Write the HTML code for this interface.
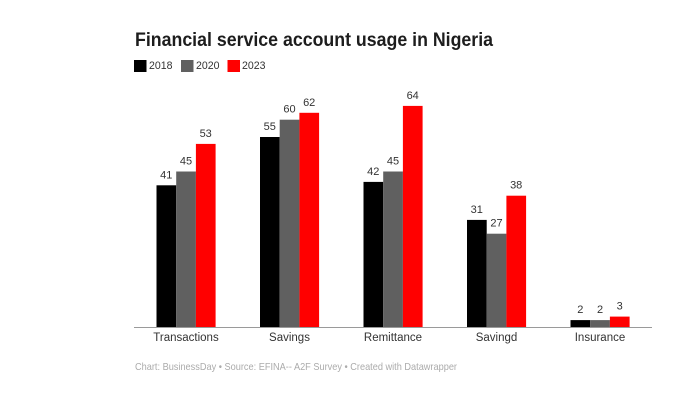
<!DOCTYPE html>
<html>
<head>
<meta charset="utf-8">
<style>
  html,body{margin:0;padding:0;background:#fff;}
  svg{display:block;}
  text{font-family:"Liberation Sans", Arial, sans-serif;}
</style>
</head>
<body>
<svg width="700" height="400" viewBox="0 0 700 400" xmlns="http://www.w3.org/2000/svg">
  <rect width="700" height="400" fill="#fff"/>
  <!-- Title -->
  <text x="135" y="46" font-size="19" font-weight="bold" fill="#1d1d1d" textLength="358" lengthAdjust="spacingAndGlyphs">Financial service account usage in Nigeria</text>
  <!-- Legend -->
  <rect x="134" y="60" width="12.5" height="12" fill="#000"/>
  <text x="149" y="69" font-size="11" fill="#333" textLength="23.5" lengthAdjust="spacingAndGlyphs">2018</text>
  <rect x="181" y="60" width="12.5" height="12" fill="#606060"/>
  <text x="196" y="69" font-size="11" fill="#333" textLength="23.5" lengthAdjust="spacingAndGlyphs">2020</text>
  <rect x="227.5" y="60" width="12.5" height="12" fill="#ff0000"/>
  <text x="242" y="69" font-size="11" fill="#333" textLength="23.5" lengthAdjust="spacingAndGlyphs">2023</text>

  <!-- Bars -->
  <g>
    <!-- Transactions -->
    <rect x="156.5" y="185.3" width="19.7" height="141.7" fill="#000"/>
    <rect x="176.2" y="171.5" width="19.7" height="155.5" fill="#606060"/>
    <rect x="195.9" y="143.9" width="19.7" height="183.1" fill="#ff0000"/>
    <!-- Savings -->
    <rect x="260" y="137.0" width="19.7" height="190.0" fill="#000"/>
    <rect x="279.7" y="119.7" width="19.7" height="207.3" fill="#606060"/>
    <rect x="299.4" y="112.8" width="19.7" height="214.2" fill="#ff0000"/>
    <!-- Remittance -->
    <rect x="363.5" y="181.9" width="19.7" height="145.1" fill="#000"/>
    <rect x="383.2" y="171.5" width="19.7" height="155.5" fill="#606060"/>
    <rect x="402.9" y="105.9" width="19.7" height="221.1" fill="#ff0000"/>
    <!-- Savingd -->
    <rect x="467" y="219.9" width="19.7" height="107.1" fill="#000"/>
    <rect x="486.7" y="233.7" width="19.7" height="93.3" fill="#606060"/>
    <rect x="506.4" y="195.7" width="19.7" height="131.3" fill="#ff0000"/>
    <!-- Insurance -->
    <rect x="570.5" y="320.1" width="19.7" height="6.9" fill="#000"/>
    <rect x="590.2" y="320.1" width="19.7" height="6.9" fill="#606060"/>
    <rect x="609.9" y="316.6" width="19.7" height="10.4" fill="#ff0000"/>
  </g>

  <!-- Value labels -->
  <g font-size="11" fill="#333" text-anchor="middle">
    <text x="166.3" y="178.3">41</text>
    <text x="186.0" y="164.5">45</text>
    <text x="205.7" y="136.9">53</text>
    <text x="269.8" y="130.0">55</text>
    <text x="289.5" y="112.7">60</text>
    <text x="309.2" y="105.8">62</text>
    <text x="373.3" y="174.9">42</text>
    <text x="393.0" y="164.5">45</text>
    <text x="412.7" y="98.9">64</text>
    <text x="476.8" y="212.9">31</text>
    <text x="496.5" y="226.7">27</text>
    <text x="516.2" y="188.7">38</text>
    <text x="580.3" y="313.1">2</text>
    <text x="600.0" y="313.1">2</text>
    <text x="619.7" y="309.6">3</text>
  </g>

  <!-- Axis line -->
  <line x1="134" y1="327.5" x2="652" y2="327.5" stroke="#9a9a9a" stroke-width="1"/>

  <!-- Category labels -->
  <g font-size="11.5" fill="#333" text-anchor="middle">
    <text x="186" y="341">Transactions</text>
    <text x="289.5" y="341">Savings</text>
    <text x="393" y="341">Remittance</text>
    <text x="496.5" y="341">Savingd</text>
    <text x="600" y="341">Insurance</text>
  </g>

  <!-- Footer -->
  <text x="135" y="370" font-size="10.5" fill="#ababab" textLength="322" lengthAdjust="spacingAndGlyphs">Chart: BusinessDay • Source: EFINA-- A2F Survey • Created with Datawrapper</text>
</svg>
</body>
</html>
